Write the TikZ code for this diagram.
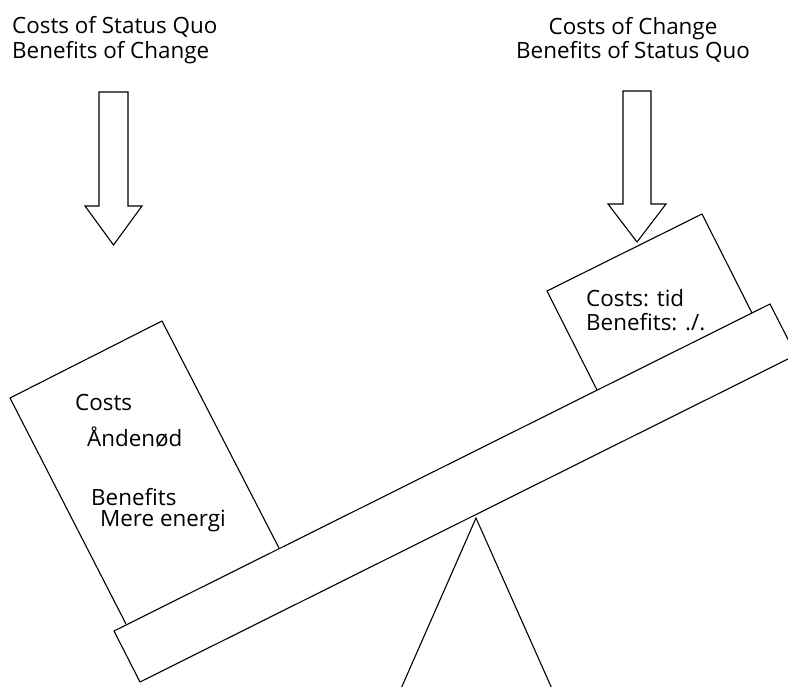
\documentclass[tikz,border=0pt]{standalone}
\usepackage{fontspec}
\setmainfont{Open Sans}
\usepackage{tikz}
\usetikzlibrary{calc}

\tikzset{
    txt/.style={inner sep=0pt, font=\fontsize{22.4pt}{24.5pt}\selectfont},
    outline/.style={line width=1.1pt, line join=miter}
}

\begin{document}
\begin{tikzpicture}[x=1pt, y=-1pt]
    \useasboundingbox (0,0) rectangle (788,687);
    \clip (0,0) rectangle (788,687);

    % Textes du haut
    \node[txt, anchor=west, align=left] (sqtxt) at (12,40) {Costs of Status Quo\\Benefits of Change};
    \node[txt, align=center] (chtxt) at (633,40) {Costs of Change\\Benefits of Status Quo};

    % Fleches vers le bas
    \draw[outline] (99,92) -- (128,92) -- (128,206) -- (142,206) -- (113.5,245) -- (85,206) -- (99,206) -- cycle;
    \draw[outline] (623,91) -- (651,91) -- (651,204) -- (666,204) -- (637,242) -- (608,204) -- (623,204) -- cycle;

    % Planche
    \coordinate (P1) at (114,631);
    \coordinate (P2) at (770,304);
    \coordinate (P4) at (140,682);
    \coordinate (P3) at ($(P2)+(P4)-(P1)$);
    \draw[outline] (P1) -- (P2) -- (P3) -- (P4) -- cycle;

    % Pivot
    \coordinate (T) at (476,518);
    \draw[outline] (396,700) -- (T) -- (557,700);

    % Boite de gauche
    \coordinate (A) at (10,398);
    \coordinate (B) at (162,321);
    \coordinate (C) at (279,548);
    \coordinate (D) at (126,624);
    \draw[outline] (D) -- (A) -- (B) -- (C);

    % Boite de droite
    \coordinate (E) at (547,291);
    \coordinate (F) at (702,214);
    \coordinate (G) at (752,313);
    \coordinate (H) at (597,390);
    \draw[outline] (H) -- (E) -- (F) -- (G);

    % Etiquettes
    \node[txt, anchor=west] (lcost) at (75,402) {Costs};
    \node[txt, anchor=west] (lcostv) at (87,437) {Åndenød};
    \node[txt, anchor=west] (lben) at (91,497) {Benefits};
    \node[txt, anchor=west] (lbenv) at (100,521) {Mere energi};
    \node[txt, anchor=west, align=left] (rtxt) at (586,310) {Costs: tid\\Benefits: ./.};
\end{tikzpicture}
\end{document}
